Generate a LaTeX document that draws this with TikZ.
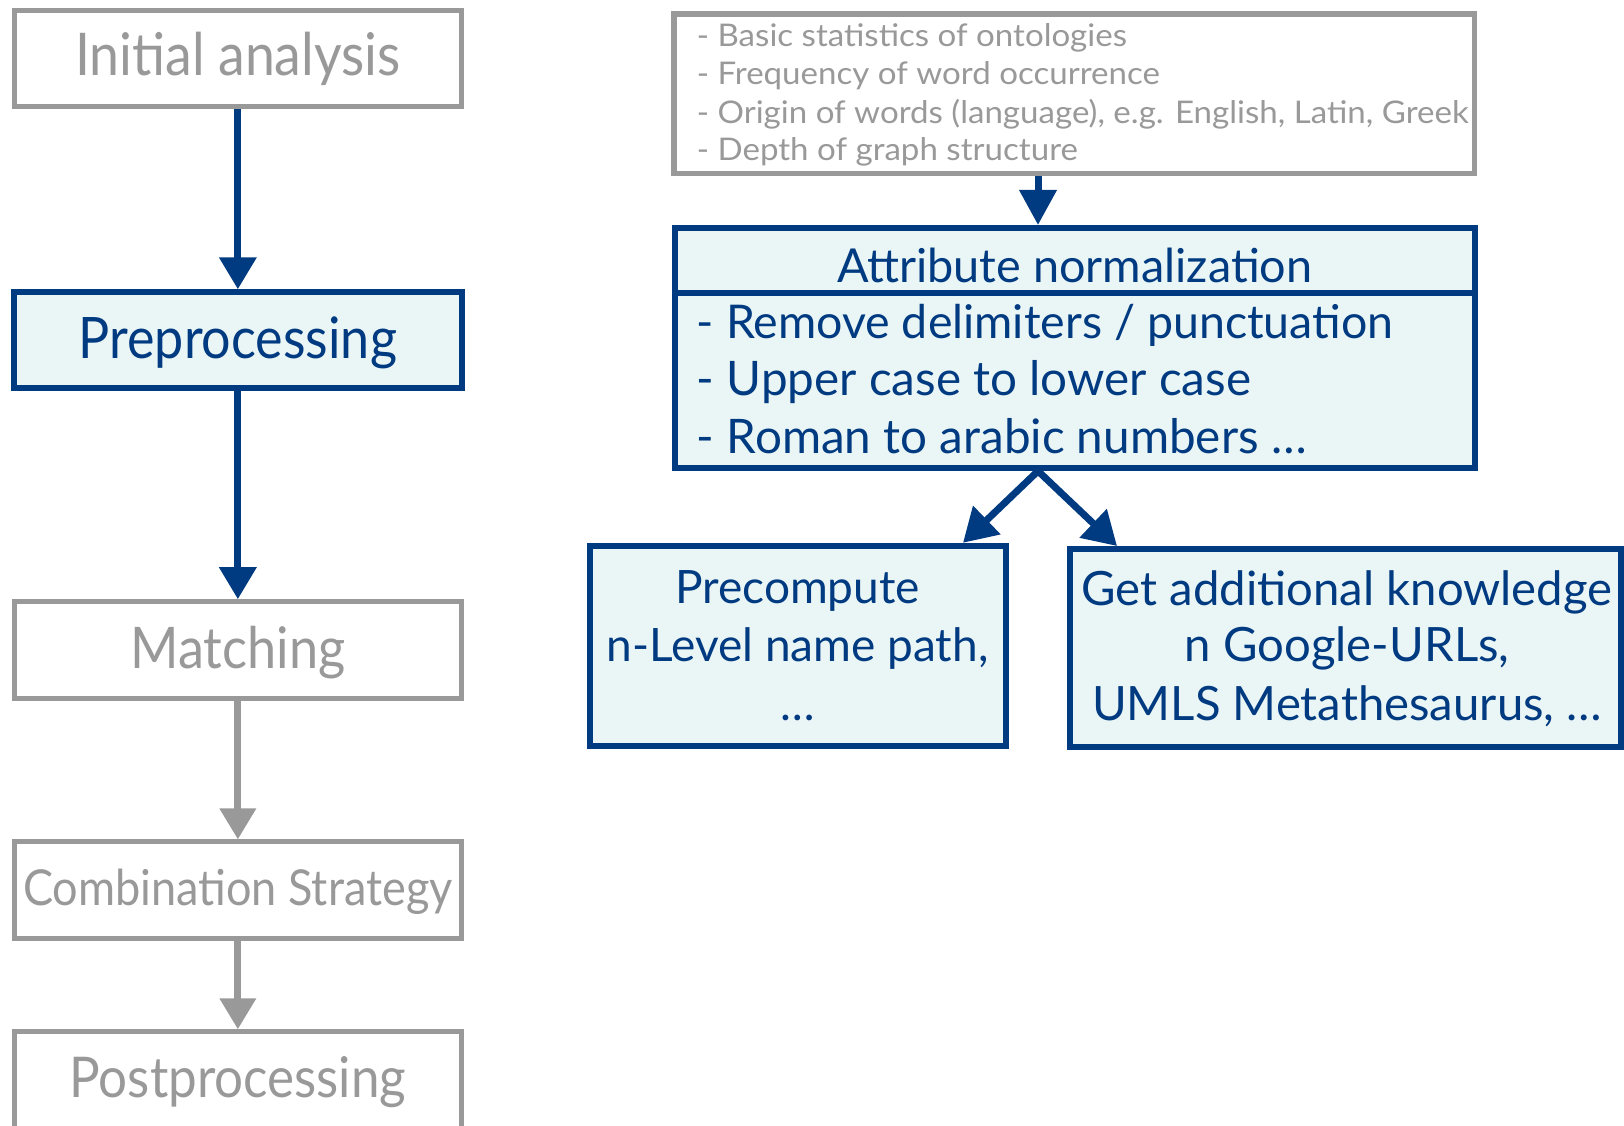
\documentclass[tikz,border=0pt]{standalone}
\usepackage{fontspec}
\setmainfont{Lato}
\newfontfamily\stepfont{Lato}[FakeStretch=0.91]
\newfontfamily\notefont{Lato}[FakeStretch=1.06]
\usetikzlibrary{arrows.meta}
\definecolor{navy}{RGB}{0,58,128}
\definecolor{stepgray}{RGB}{153,153,153}
\definecolor{paleblue}{RGB}{234,245,246}
\newcommand\fs[1]{\fontsize{#1}{#1}\selectfont}

\begin{document}
\begin{tikzpicture}[x=1pt,y=-1pt,
  graybox/.style={draw=stepgray, line width=5pt, fill=white, inner sep=1pt, text=stepgray},
  bluebox/.style={draw=navy, line width=6pt, fill=paleblue, inner sep=1pt, text=navy},
  grayline/.style={anchor=base west, inner sep=0pt, text=stepgray, font=\notefont\fs{31.2}},
  blueline/.style={anchor=base west, inner sep=0pt, text=navy, font=\fs{#1}},
  centerline/.style={anchor=base, inner sep=0pt, text=navy, font=\fs{#1}},
  bluearrow/.style={draw=navy, line width=7pt, -{Triangle[length=32pt,width=36pt]}},
  grayarrow/.style={draw=stepgray, line width=7pt, -{Triangle[length=31pt,width=35pt]}}]
\useasboundingbox (0,0) rectangle (1624,1126);

% process steps on the left
\node[graybox, minimum width=447.3pt, minimum height=95.7pt, text height=34.7pt, text depth=0pt, font=\stepfont\fs{58.9}] (ia) at (237.85,58.65) {Initial analysis};
\node[bluebox, minimum width=447.3pt, minimum height=95.4pt, text height=36.6pt, text depth=0pt, font=\stepfont\fs{57.2}] (pre) at (237.85,340) {Preprocessing};
\node[graybox, minimum width=447.3pt, minimum height=97pt, text height=37.2pt, text depth=0pt, font=\stepfont\fs{57.4}] (match) at (237.85,650.2) {Matching};
\node[graybox, minimum width=447.3pt, minimum height=96.6pt, text height=30.8pt, text depth=0pt, font=\stepfont\fs{49.5}] (comb) at (237.85,890.2) {Combination Strategy};
\node[graybox, minimum width=447.3pt, minimum height=97pt, text height=33.4pt, text depth=0pt, font=\stepfont\fs{56.2}] (post) at (237.85,1080.3) {Postprocessing};

\draw[bluearrow] (ia) -- (pre);
\draw[bluearrow] (pre) -- (match);
\draw[grayarrow] (match) -- (comb);
\draw[grayarrow] (comb) -- (post);

% initial analysis details
\node[graybox, line width=5.5pt, minimum width=800.5pt, minimum height=159.3pt] (src) at (1074.25,93.85) {};
\node[grayline] (s1) at (696.6,46.7) {- Basic statistics of ontologies};
\node[grayline] (s2) at (696.6,85) {- Frequency of word occurrence};
\node[grayline] (s3) at (696.6,123.3) {- Origin of words (language), e.g. English, Latin, Greek};
\node[grayline] (s4) at (696.6,161) {- Depth of graph structure};

% attribute normalization
\node[bluebox, minimum width=800.5pt, minimum height=65pt, text height=44.4pt, text depth=0pt, font=\fs{46.8}] (head) at (1074.75,260.5) {Attribute normalization};
\node[bluebox, minimum width=800.5pt, minimum height=175pt] (body) at (1074.75,380.5) {};
\node[blueline=46.5] (b1) at (696.6,338.3) {- Remove delimiters / punctuation};
\node[blueline=47.6] (b2) at (696.6,395.7) {- Upper case to lower case};
\node[blueline=47.6] (b3) at (696.6,453.3) {- Roman to arabic numbers …};

% follow-up steps
\node[bluebox, minimum width=416.5pt, minimum height=200.5pt] (pc) at (798.05,646.05) {};
\node[centerline=46] (p1) at (797.5,603.3) {Precompute};
\node[centerline=46] (p2) at (797.5,661.7) {n-Level name path,};
\node[centerline=46] (p3) at (797.5,720) {…};

\node[bluebox, minimum width=550.8pt, minimum height=197.7pt] (get) at (1345.1,647.85) {};
\node[centerline=47.3] (g1) at (1347,605) {Get additional knowledge};
\node[centerline=47.3] (g2) at (1347,661.7) {n Google-URLs,};
\node[centerline=47.3] (g3) at (1347,720) {UMLS Metathesaurus, …};

\coordinate (ax) at (1038,0);
\coordinate (pcin) at (963,0);
\coordinate (getin) at (1117,0);
\draw[draw=navy, line width=7pt, -{Triangle[length=35pt,width=36pt]}] (src.south -| ax) -- (head.north -| ax);
\draw[draw=navy, line width=7pt, -{Triangle[length=33pt,width=38pt]}] (body.south -| ax) -- (pc.north -| pcin);
\draw[draw=navy, line width=7pt, -{Triangle[length=33pt,width=38pt]}] (body.south -| ax) -- (get.north -| getin);
\end{tikzpicture}
\end{document}
